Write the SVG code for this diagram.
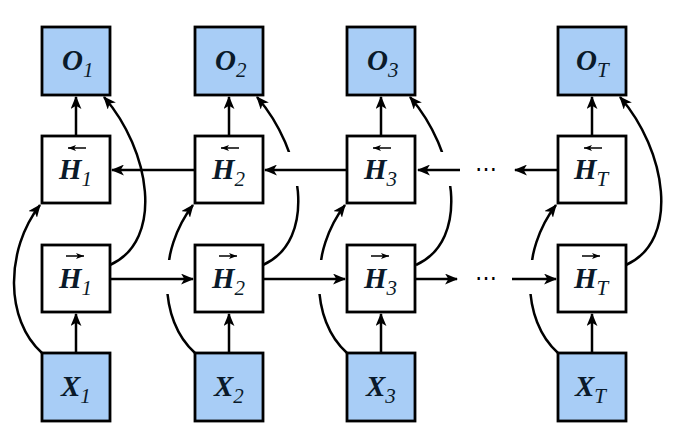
<svg xmlns="http://www.w3.org/2000/svg" width="681" height="429" viewBox="0 0 681 429">
<defs>
<marker id="a" viewBox="0 0 12 10" refX="11" refY="5" markerWidth="13" markerHeight="11" markerUnits="userSpaceOnUse" orient="auto">
<path d="M0,0 L12,5 L0,10 L3,5 Z" fill="#000"/>
</marker>
<marker id="s" viewBox="0 0 8 6" refX="8" refY="3" markerWidth="8" markerHeight="6" markerUnits="userSpaceOnUse" orient="auto">
<path d="M0,0 L8,3 L0,6 L2,3 Z" fill="#000"/>
</marker>
<style>
.io{fill:#a8cdf6;stroke:#000;stroke-width:2.8}
.h{fill:#fff;stroke:#000;stroke-width:2.8}
.t{font-family:"Liberation Serif",serif;font-weight:bold;font-style:italic;font-size:29px;fill:#0a1a2a}
.sub{font-weight:normal;font-size:21px}
.c{fill:none;stroke:#000;stroke-width:2.5}
.ov{fill:none;stroke:#000;stroke-width:1.5}
.dots{font-family:"Liberation Serif",serif;font-size:22px}
</style>
</defs>
<rect width="681" height="429" fill="#fff"/>
<g id="connectors">
<g class="c" marker-end="url(#a)">
<path d="M42,353 C5,320 5,250 40,205"/>
<path d="M110,265 C165,240 150,150 104,97"/>
<path d="M195,353 C158,320 158,250 193,205"/>
<path d="M263,265 C318,240 303,150 257,97"/>
<path d="M347,353 C310,320 310,250 345,205"/>
<path d="M416,265 C471,240 456,150 410,97"/>
<path d="M558,353 C521,320 521,250 556,205"/>
<path d="M626,265 C681,240 666,150 620,97"/>
</g>
<g fill="#fff">
<rect x="155" y="260" width="30" height="34"/>
<rect x="307" y="260" width="30" height="34"/>
<rect x="518" y="260" width="30" height="34"/>
<rect x="275" y="152" width="30" height="34"/>
<rect x="428" y="152" width="30" height="34"/>
</g>
<g class="c" marker-end="url(#a)">
<line x1="76" y1="136" x2="76" y2="97"/>
<line x1="229" y1="136" x2="229" y2="97"/>
<line x1="381" y1="136" x2="381" y2="97"/>
<line x1="592" y1="136" x2="592" y2="97"/>
<line x1="76" y1="353" x2="76" y2="314"/>
<line x1="229" y1="353" x2="229" y2="314"/>
<line x1="381" y1="353" x2="381" y2="314"/>
<line x1="592" y1="353" x2="592" y2="314"/>
<line x1="195" y1="170" x2="112" y2="170"/>
<line x1="347" y1="170" x2="265" y2="170"/>
<line x1="460" y1="170" x2="418" y2="170"/>
<line x1="558" y1="170" x2="515" y2="170"/>
<line x1="110" y1="279" x2="193" y2="279"/>
<line x1="263" y1="279" x2="345" y2="279"/>
<line x1="416" y1="279" x2="457" y2="279"/>
<line x1="512" y1="279" x2="556" y2="279"/>
</g>
<text class="dots" x="486" y="176" text-anchor="middle">⋯</text>
<text class="dots" x="486" y="285" text-anchor="middle">⋯</text>
</g>
<g id="col1">
<g id="O1"><rect class="io" x="42" y="27" width="68" height="68"/><text class="t" x="62" y="70">O<tspan class="sub" dy="7">1</tspan></text></g>
<g id="Hb1"><rect class="h" x="42" y="136" width="68" height="67"/><line class="ov" x1="86" y1="148" x2="68" y2="148" marker-end="url(#s)"/><text class="t" x="59" y="179">H<tspan class="sub" dy="7">1</tspan></text></g>
<g id="Hf1"><rect class="h" x="42" y="245" width="68" height="67"/><line class="ov" x1="66" y1="256" x2="84" y2="256" marker-end="url(#s)"/><text class="t" x="59" y="288">H<tspan class="sub" dy="7">1</tspan></text></g>
<g id="X1"><rect class="io" x="42" y="353" width="68" height="68"/><text class="t" x="61" y="396">X<tspan class="sub" dy="7">1</tspan></text></g>
</g>
<g id="col2">
<g id="O2"><rect class="io" x="195" y="27" width="68" height="68"/><text class="t" x="215" y="70">O<tspan class="sub" dy="7">2</tspan></text></g>
<g id="Hb2"><rect class="h" x="195" y="136" width="68" height="67"/><line class="ov" x1="239" y1="148" x2="221" y2="148" marker-end="url(#s)"/><text class="t" x="212" y="179">H<tspan class="sub" dy="7">2</tspan></text></g>
<g id="Hf2"><rect class="h" x="195" y="245" width="68" height="67"/><line class="ov" x1="219" y1="256" x2="237" y2="256" marker-end="url(#s)"/><text class="t" x="212" y="288">H<tspan class="sub" dy="7">2</tspan></text></g>
<g id="X2"><rect class="io" x="195" y="353" width="68" height="68"/><text class="t" x="214" y="396">X<tspan class="sub" dy="7">2</tspan></text></g>
</g>
<g id="col3">
<g id="O3"><rect class="io" x="347" y="27" width="68" height="68"/><text class="t" x="367" y="70">O<tspan class="sub" dy="7">3</tspan></text></g>
<g id="Hb3"><rect class="h" x="347" y="136" width="68" height="67"/><line class="ov" x1="391" y1="148" x2="373" y2="148" marker-end="url(#s)"/><text class="t" x="364" y="179">H<tspan class="sub" dy="7">3</tspan></text></g>
<g id="Hf3"><rect class="h" x="347" y="245" width="68" height="67"/><line class="ov" x1="371" y1="256" x2="389" y2="256" marker-end="url(#s)"/><text class="t" x="364" y="288">H<tspan class="sub" dy="7">3</tspan></text></g>
<g id="X3"><rect class="io" x="347" y="353" width="68" height="68"/><text class="t" x="366" y="396">X<tspan class="sub" dy="7">3</tspan></text></g>
</g>
<g id="colT">
<g id="OT"><rect class="io" x="558" y="27" width="68" height="68"/><text class="t" x="576" y="70">O<tspan class="sub" dy="7">T</tspan></text></g>
<g id="HbT"><rect class="h" x="558" y="136" width="68" height="67"/><line class="ov" x1="602" y1="148" x2="584" y2="148" marker-end="url(#s)"/><text class="t" x="574" y="179">H<tspan class="sub" dy="7">T</tspan></text></g>
<g id="HfT"><rect class="h" x="558" y="245" width="68" height="67"/><line class="ov" x1="582" y1="256" x2="600" y2="256" marker-end="url(#s)"/><text class="t" x="574" y="288">H<tspan class="sub" dy="7">T</tspan></text></g>
<g id="XT"><rect class="io" x="558" y="353" width="68" height="68"/><text class="t" x="575" y="396">X<tspan class="sub" dy="7">T</tspan></text></g>
</g>
</svg>
